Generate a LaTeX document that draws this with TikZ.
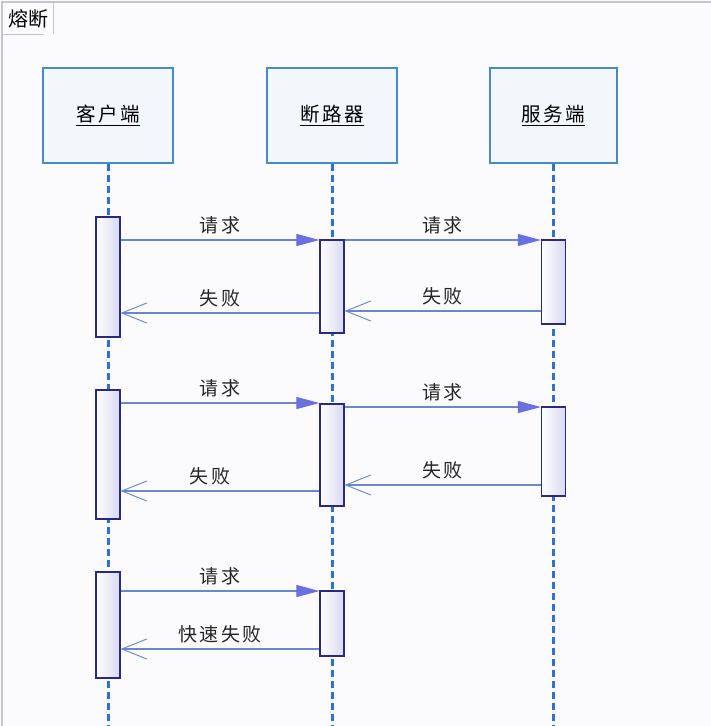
\documentclass[tikz,border=0pt]{standalone}
\usepackage{fontspec}
\setmainfont{Noto Sans CJK SC}
\usetikzlibrary{arrows.meta,shadings}
\definecolor{bgc}{HTML}{FBFBFD}
\definecolor{framec}{HTML}{C4C4CC}
\definecolor{headb}{HTML}{4A8AC4}
\definecolor{headf}{HTML}{F2F7FB}
\definecolor{lifec}{HTML}{2F6FD6}
\definecolor{actb}{HTML}{2A2A7A}
\definecolor{actf}{HTML}{D8D8F4}
\definecolor{msgc}{HTML}{6A88C8}
\definecolor{headc}{HTML}{6A70E0}
\tikzset{
  x=1pt, y=-1pt,
  header/.style={draw=headb, line width=1.3pt, fill=headf, minimum width=130pt, minimum height=95pt, inner sep=0pt, font=\fontsize{19.5}{21}\selectfont\addfontfeature{LetterSpace=12}},
  lifeline/.style={draw=lifec, line width=3pt, dash pattern=on 7pt off 4pt},
  act/.style={draw=actb, line width=1.2pt, left color=white, right color=actf, minimum width=24pt, inner sep=0pt},
  req/.style={draw=msgc, line width=1.1pt, -{Triangle[length=23pt,width=12pt,fill=headc,color=headc]}},
  reply/.style={draw=msgc, line width=1.1pt, -{Straight Barb[length=25pt,width=20pt,line width=0.9pt]}},
  lbl/.style={font=\fontsize{19}{21}\selectfont\addfontfeature{LetterSpace=12}, text=black!85, inner sep=0pt},
}
\newcommand{\actbox}[4]{\node[act, minimum height=#4-#3] (#1) at (#2,{(#3+#4)/2}) {};}
\begin{document}
\begin{tikzpicture}
\useasboundingbox (0,0) rectangle (711,726);
\fill[bgc] (0,0) rectangle (711,726);
% frame
\draw[framec, line width=1.2pt] (2,726) -- (2,2) -- (711,2);
\draw[framec, line width=1pt] (2,34) -- (44,34);
\draw[framec, line width=1pt] (53,2) -- (53,34);
\node[font=\fontsize{20}{22}\selectfont, inner sep=0pt] (title) at (29,19) {熔断};
% headers
\node[header] (cli) at (108,115.5) {\underline{客户端}};
\node[header] (brk) at (332,115.5) {\underline{断路器}};
\node[header, minimum width=127pt] (srv) at (553.5,115.5) {\underline{服务端}};
\coordinate (cliend) at (108,726);
\coordinate (brkend) at (332,726);
\coordinate (srvend) at (553.5,726);
\draw[lifeline] (cli.south) -- (cliend);
\draw[lifeline] (brk.south) -- (brkend);
\draw[lifeline] (srv.south) -- (srvend);
% activations
\actbox{c1}{108}{217}{337}
\actbox{c2}{108}{390}{519}
\actbox{c3}{108}{572}{678}
\actbox{b1}{332}{240}{333}
\actbox{b2}{332}{404}{506}
\actbox{b3}{332}{591}{656}
\actbox{s1}{553.5}{240}{324}
\actbox{s2}{553.5}{407}{496}
% round 1
\draw[req] (c1.east |- 0,240) -- (b1.west |- 0,240) node[lbl, midway, above=5pt] {请求};
\draw[req] (b1.east |- 0,240) -- (s1.west |- 0,240) node[lbl, midway, above=5pt] {请求};
\draw[reply] (s1.west |- 0,311) -- (b1.east |- 0,311) node[lbl, midway, above=5pt] {失败};
\draw[reply] (b1.west |- 0,313) -- (c1.east |- 0,313) node[lbl, midway, above=5pt] {失败};
% round 2
\draw[req] (c2.east |- 0,403) -- (b2.west |- 0,403) node[lbl, midway, above=5pt] {请求};
\draw[req] (b2.east |- 0,407) -- (s2.west |- 0,407) node[lbl, midway, above=5pt] {请求};
\draw[reply] (s2.west |- 0,485) -- (b2.east |- 0,485) node[lbl, midway, above=5pt] {失败};
\draw[reply] (b2.west |- 0,491) -- (c2.east |- 0,491) node[lbl, pos=0.55, above=5pt] {失败};
% round 3
\draw[req] (c3.east |- 0,591) -- (b3.west |- 0,591) node[lbl, midway, above=5pt] {请求};
\draw[reply] (b3.west |- 0,649) -- (c3.east |- 0,649) node[lbl, midway, above=5pt] {快速失败};
\end{tikzpicture}
\end{document}
